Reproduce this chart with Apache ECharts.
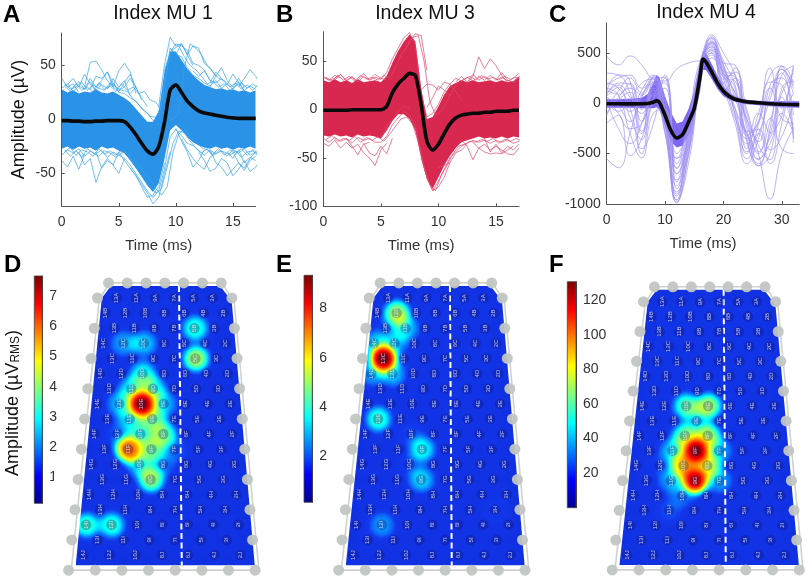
<!DOCTYPE html>
<html><head><meta charset="utf-8">
<script src="https://cdn.jsdelivr.net/npm/echarts@6/dist/echarts.min.js"></script>
<style>html,body{margin:0;padding:0;background:#fff}#c{width:810px;height:580px}</style>
</head><body><div id="c"></div>
<script>
// ---------- waveform data ----------
const titles=['Index MU 1','Index MU 3','Index MU 4'];
const upperA=[28,25,27,24,26,25,28,25,24,26,23,20,16,10,4,-2,-2,7,44,63,63,55,47,41,36,32,30,28,29,27,28,26,27,25,27];
const lowerA=[-27,-25,-28,-25,-27,-26,-29,-25,-27,-26,-29,-31,-38,-45,-53,-61,-67,-59,-37,-10,-5,-10,-16,-21,-24,-26,-27,-25,-27,-26,-28,-26,-27,-25,-27];
const meanA=[-1,-1,-1.5,-1.5,-2,-2,-1.5,-1.5,-1,-1,-1,-2,-7,-14,-22,-29,-32,-25,-3,27,32,25,17,12,8,6,5,4,3,2,1.5,1,1,1,1];
const fringeA=[
[0.25,[31,26,33,27,30,25,34,28,31,26,33,27,30,24,26,18,16,8,3,0,6,48,70,66,60,50,44,38,36,30,34,28,32,27,33,26,31,26,32]],
[0,[29,33,26,31,28,35,27,32,29,34,25,24,20,17,10,6,-1,1,30,66,60,58,48,41,38,34,31,36,29,33,28,35,27,31,28]],
[0.25,[33,28,30,35,27,32,29,27,34,30,27,26,19,14,8,3,2,14,48,65,68,58,50,46,40,33,35,30,33,27,31,34,29,33,29]],
[0.25,[-30,-26,-33,-28,-30,-34,-27,-32,-29,-33,-28,-34,-38,-42,-50,-56,-64,-70,-62,-30,-14,-8,-16,-20,-26,-28,-32,-27,-33,-28,-31,-27,-33,-28,-31]],
[0,[-33,-28,-31,-27,-34,-29,-32,-28,-35,-30,-33,-36,-42,-50,-58,-66,-72,-66,-46,-16,-9,-15,-22,-24,-29,-33,-28,-32,-29,-34,-28,-31,-27,-33,-30]],
[0.25,[-28,-34,-29,-35,-27,-31,-34,-29,-31,-35,-31,-30,-40,-48,-56,-62,-68,-64,-44,-22,-11,-12,-20,-26,-31,-27,-34,-29,-30,-33,-29,-35,-30,-29,-34]]];
const tracesA=[[0,[38,30,33,25]],[0.5,[32,38,30,42,33,26]],[2,[30,53,54,46,36,30,45,52,44,24]],[2.5,[28,40,38,44,30,26,34,42,30,18]],[3,[30,36,44,34,27,30,38,30]],[8.5,[12,50,76,68,70,60,50]],[9,[45,62,70,68,64,52,50,46,36]],[10,[60,70,60,68,66,52,48,40]],[13,[30,40,48,36,30,38,30]],[15.5,[30,38,46,40,30]],[13,[34,44,38,32,42,34,26]],[0,[-38,-44,-34,-46,-32]],[1.5,[-30,-42,-36,-58,-44,-36,-42,-30]],[3,[-30,-45,-38,-42,-50,-36]],[5,[-30,-38,-45,-52,-60,-68,-78,-72,-50,-30]],[6,[-45,-52,-62,-72,-70,-62,-40]],[10.5,[-18,-28,-36,-42,-46,-35,-30]],[12,[-30,-38,-48,-45,-36,-40,-52,-46,-38,-48,-44,-36]],[13,[-28,-40,-44,-52,-46,-40,-45,-36,-30,-38]],[15,[-30,-40,-47,-38,-34]],[10,[-8,-20,-30,-44,-38,-28]],[14.5,[-30,-36,-28,-40,-35,-38]],[6,[24,30,20,12]],[11.5,[45,40,45,36,34,38]],[4,[28,38,30,36,22]],[1,[30,35,28,38,30,34]]];
const upperB=[30,28,31,28,30,27,31,28,29,30,28,34,48,60,70,77,70,22,-10,-8,3,15,24,27,30,28,30,28,29,30,28,30,28,29,34];
const lowerB=[-27,-28,-26,-28,-27,-29,-26,-28,-27,-28,-30,-22,-12,-5,-5,-10,-22,-50,-72,-82,-70,-58,-48,-40,-34,-32,-30,-28,-30,-29,-30,-28,-30,-28,-29];
const meanB=[-1,-1,-1,-1,-1,-0.5,-0.5,-0.5,-0.5,-0.5,-0.5,3,17,26,32,37,35,5,-33,-42,-36,-25,-15,-9,-6,-5,-4,-4,-3,-3,-2,-2,-2,-1,-1];
const fringeB=[
[0.25,[33,29,35,30,34,29,35,31,33,30,35,32,42,56,64,74,76,50,8,-6,-2,8,20,28,31,34,30,35,31,33,30,34,31,33,30]],
[0,[34,30,32,36,29,33,28,34,30,33,31,38,52,63,74,79,66,16,-8,-4,5,18,26,32,29,33,29,34,30,35,30,33,29,32,37]],
[0.25,[-31,-27,-33,-30,-32,-28,-34,-29,-32,-28,-33,-26,-18,-10,-8,-15,-34,-60,-78,-84,-68,-58,-46,-38,-36,-33,-34,-31,-33,-30,-35,-31,-33,-30,-33]],
[0,[-30,-34,-29,-33,-30,-35,-29,-32,-30,-34,-34,-28,-16,-9,-2,-6,-18,-46,-70,-84,-74,-62,-50,-44,-38,-35,-32,-34,-32,-35,-32,-34,-31,-35,-33]]];
const tracesB=[[0,[33,30,35,32]],[1,[30,36,30,34,28]],[3,[30,37,30,36,32,30]],[2,[-30,-38,-47,-36,-34]],[2,[-34,-40,-36,-45,-50,-58,-42,-35]],[0,[-35,-38,-32,-40,-34]],[3.5,[-35,-45,-48,-38,-46,-30]],[8.5,[20,26,25,20,28,26,18,10]],[9,[2,12,24,20,14]],[12.5,[26,34,54,42,52,45,35,28]],[11.5,[28,34,28,36,30,34,30]],[15,[30,38,30,28,32]],[16,[30,28,33,38]],[12,[-32,-38,-52,-40,-44,-46,-45,-46,-42,-38]],[13,[-34,-40,-36,-42,-38,-42,-46,-47,-40]],[14,[-30,-44,-36,-45,-38,-42,-36]],[7,[60,70,78,76,40]],[8.5,[-50,-70,-84,-80,-70,-55]],[10,[-60,-58,-55,-45,-42,-36]],[4.5,[-28,-30,-18,-10,-2,4,0]]];
const timesC=[0,2,4,6,7,8,8.5,9,10,11,12,13,14,15,16,16.5,17,18,19,20,21,22,23,24,26,28,30,33];
const upperC=[40,40,45,55,90,200,280,260,70,-90,-200,-180,-60,120,380,520,500,390,270,170,105,70,50,35,25,20,20,20];
const lowerC=[-45,-45,-45,-50,-50,-50,-40,-60,-230,-380,-440,-420,-320,-160,120,330,330,240,140,70,35,15,0,-10,-20,-30,-40,-45];
const meanC=[-5,-5,-6,-5,-3,10,25,12,-120,-270,-345,-310,-190,-50,270,440,410,310,200,120,70,40,25,15,5,-5,-10,-15];
const tracesC=[
[470,380,470,380,240,220,340,400,420,320,200,60,20,0,-20,-30,-20],
[-550,-640,-300,80,200,-300,-960,-500,300,560,300,-100,-350,-200,150,-150,-200],
[150,80,-300,-540,-100,-60,-850,-300,400,650,380,50,-300,-620,-300,100,300],
[100,180,60,-100,150,-200,-980,-600,200,680,500,280,-100,-500,-950,-500,-250],
[50,-100,-250,-200,80,-120,-700,-400,300,520,400,380,-380,-600,-250,340,100],
[200,150,-50,-450,-200,250,-500,-250,350,600,250,-150,-400,-100,280,370,200],
[30,-250,-400,-200,200,260,-780,-250,350,620,300,150,-500,-300,-600,-200,350],
[180,250,280,150,220,50,-550,-150,420,560,200,350,-250,-550,-400,-100,-300],
[-200,-120,-520,-350,50,280,-650,-250,280,450,150,-200,-600,-350,100,300,-350],
[80,200,190,-180,100,-300,-880,-420,250,500,320,280,-450,-100,-300,370,150],
[-100,60,150,80,250,-120,-920,-450,300,600,350,-50,-300,-500,-150,-450,-500],
[120,280,220,-500,30,150,-700,-350,380,580,100,250,-150,-380,180,250,-120],
[300,280,100,-300,180,200,-600,-200,340,540,380,-120,-550,-200,350,-50,100],
[-50,120,250,100,270,-250,-820,-300,300,660,280,100,-350,-620,-500,150,220],
[60,-30,-180,60,260,-80,-990,-520,220,480,260,220,-200,-480,-180,280,370],
[-30,40,110,-280,190,-160,-760,-500,260,640,420,180,-280,-260,-460,-330,30],
[10,-80,30,200,240,-40,-640,-350,310,500,240,310,-60,-420,-560,60,-260],
[130,90,200,-60,210,-220,-900,-380,360,610,180,-60,-480,-300,40,340,180],
[-120,10,-80,130,280,10,-540,-440,240,530,340,100,-160,-560,-340,-120,380],
[70,160,-140,-360,130,-170,-960,-280,330,590,290,260,-320,-180,210,180,-390]];
// ---------- surface EMG data: RMS amplitude by electrode ----------
const hotD={'5B':3.2,'5C':4.2,'12C':2.2,'10C':2.5,'10D':3,'11D':2.8,'9D':3,'12E':2.4,'10E':7.6,'8E':2.4,'11E':2.4,'9E':3.2,'10F':2.6,'8F':3.6,'11F':6,'9F':3.5,'12F':1.3,'10G':2.6,'8G':1.6,'9G':4,'14I':3.4,'12I':3.3,'7F':1.4};
const hotE={'12B':5,'11B':3,'13B':1.2,'14C':3,'12C':2.6,'13C':9.3,'14D':2.6,'12D':3,'13E':4,'9F':3.6,'10F':1.4,'9G':3.2,'10G':1.2,'12I':2.6,'3H':1};
const hotF={'10E':60,'8E':70,'9E':26,'10F':62,'8F':68,'11F':42,'9F':128,'7F':36,'10G':85,'8G':70,'11G':36,'9G':122,'7G':36,'10H':24,'11H':20,'12G':14};
const baseLevels=[0.42,0.5,5];
const colorbarRanges=[[0.15,7.66],[0.15,9.34],[0,130.6]];
const colorbarTicks=[[1,2,3,4,5,6,7],[2,4,6,8],[20,40,60,80,100,120]];
const rowLetters=['A','B','C','D','E','F','G','H','I','J'];
// ---------- styling and layout ----------
const FONT='"Liberation Sans",Arial,sans-serif';
const AX='#555', TX='#333';
const panels=[
 {left:61.7,top:33,width:194,height:173,xMax:17,yMin:-80,yMax:80,xt:[0,5,10,15],yt:[-50,0,50],band:'#2a93e8',line:'#35a3ec'},
 {left:323.3,top:31.7,width:195.7,height:174.6,xMax:17,yMin:-100,yMax:80,xt:[0,5,10,15],yt:[-100,-50,0,50],band:'#d8284f',line:'#e0476a'},
 {left:606.7,top:22.7,width:192.6,height:181.3,xMax:33,yMin:-1000,yMax:800,xt:[0,10,20,30],yt:[-1000,-500,0,500],band:'#7f66f0',line:'#9f92f3'}];
const heatGeom=[
 {x0:[179.1,181.7],w:[9.6,13.12],y0:298,dy:15.12,cb:[34.3,276,8,227.3]},
 {x0:[450,451.7],w:[9.5,13.1],y0:298,dy:15.12,cb:[304,275.3,8.3,227]},
 {x0:[723.7,725.7],w:[9.44,13.14],y0:301.7,dy:14.9,cb:[567.3,281.7,8.7,226]}];
const jet=[[0,'#000090'],[0.125,'#0000ff'],[0.375,'#00ffff'],[0.625,'#ffff00'],[0.875,'#ff0000'],[1,'#7a0000']];
const heatRamp=['#1030e0','#1238ee','#0a86ff','#00ffff','#80ff80','#ffff00','#ff8000','#ff0000','#7a0000'];

const grid=[],xAxis=[],yAxis=[],series=[],geo=[],visualMap=[],graphic=[];
function addAxes(p,i){
 grid.push({left:p.left,top:p.top,width:p.width,height:p.height});
 const ax={color:AX,width:1};
 xAxis.push({type:'value',gridIndex:i,min:0,max:p.xMax,name:'Time (ms)',nameLocation:'middle',nameGap:32,
  nameTextStyle:{color:TX,fontSize:15,fontFamily:FONT},splitLine:{show:false},axisLine:{onZero:false,lineStyle:ax},
  axisTick:{inside:true,length:3,lineStyle:ax,customValues:p.xt},
  axisLabel:{color:TX,fontSize:14,fontFamily:FONT,margin:9,customValues:p.xt}});
 yAxis.push({type:'value',gridIndex:i,min:p.yMin,max:p.yMax,name:i==0?'Amplitude (µV)':'',nameLocation:'middle',nameGap:34,
  nameTextStyle:{color:'#111',fontSize:18,fontFamily:FONT},splitLine:{show:false},axisLine:{onZero:false,lineStyle:ax},
  axisTick:{inside:true,length:3,lineStyle:ax,customValues:p.yt},
  axisLabel:{color:TX,fontSize:14,fontFamily:FONT,margin:6,customValues:p.yt,formatter:v=>String(v)}});
}
function stepped(start,vals,step){return vals.map((v,k)=>[start+k*step,v]);}
function addWave(i,times,upper,lower,mean,fringe,traces,p){
 const band=times.map((t,k)=>[t,lower[k],upper[k]]);
 series.push({type:'custom',xAxisIndex:i,yAxisIndex:i,silent:true,clip:true,data:[band[0]],encode:{x:0,y:1},
  renderItem:(ps,api)=>{
   const pts=band.map(b=>api.coord([b[0],b[2]])).concat(band.slice().reverse().map(b=>api.coord([b[0],b[1]])));
   return {type:'polygon',shape:{points:pts},style:{fill:p.band},
    clipPath:{type:'rect',shape:{x:ps.coordSys.x,y:ps.coordSys.y,width:ps.coordSys.width,height:ps.coordSys.height}}};}});
 fringe.concat(traces).forEach(tr=>series.push({type:'line',xAxisIndex:i,yAxisIndex:i,data:tr,showSymbol:false,silent:true,
  smooth:i==2,lineStyle:{color:p.line,width:0.7}}));
 series.push({type:'line',xAxisIndex:i,yAxisIndex:i,data:times.map((t,k)=>[t,mean[k]]),showSymbol:false,silent:true,smooth:0.25,
  lineStyle:{color:'#0a0a0a',width:3.6},z:5});
}
panels.forEach(addAxes);
const timesAB=upperA.map((_,k)=>k*0.5);
const half=l=>l.map(t=>stepped(t[0],t[1],0.5));
addWave(0,timesAB,upperA,lowerA,meanA,half(fringeA),half(tracesA),panels[0]);
addWave(1,timesAB,upperB,lowerB,meanB,half(fringeB),half(tracesB),panels[1]);
addWave(2,timesC,upperC,lowerC,meanC,[],tracesC.map(t=>stepped(0,t,2)),panels[2]);

// electrode geometry: col 14..2, row r=0..17
function mk(g){const R=17;return (col,r)=>{const f=r/R;const w=g.w[0]+(g.w[1]-g.w[0])*f;const x0=g.x0[0]+(g.x0[1]-g.x0[0])*f;
 return [x0+(6.5-col)*w,-(g.y0+r*g.dy)];};}
[hotD,hotE,hotF].forEach((hot,k)=>{
 const g=heatGeom[k],P=mk(g),mapName='array'+k;
 const out=[P(13.65,-0.8),P(2.2,-0.8),P(1.05,0.2),P(1,17.67),P(14.5,17.67),P(14.55,0)];
 echarts.registerMap(mapName,{type:'FeatureCollection',features:[{type:'Feature',properties:{name:'a'},
   geometry:{type:'Polygon',coordinates:[out.concat([out[0]])]}}]});
 const xs=out.map(a=>a[0]),ys=out.map(a=>-a[1]);
 const bx=Math.min(...xs),bX=Math.max(...xs),by=Math.min(...ys),bY=Math.max(...ys);
 geo.push({map:mapName,left:bx,top:by,width:bX-bx,height:bY-by,aspectScale:1,roam:false,silent:true,z:1,
   itemStyle:{areaColor:heatRamp[0],borderWidth:0},label:{show:false},emphasis:{disabled:true},select:{disabled:true},tooltip:{show:false}});
 const els=[];
 for(let r=0;r<18;r++){const letter=rowLetters[Math.ceil(r/2)];
  const cols=r%2?[14,12,10,8,6,4,2]:[13,11,9,7,5,3];
  cols.forEach(c=>{const name=c+letter,pos=P(c,r);els.push({name,pos,v:hot[name]??baseLevels[k]});});}
 const cr=colorbarRanges[k];
 visualMap.push({type:'continuous',show:false,seriesIndex:series.length,dimension:2,min:cr[0],max:cr[1],inRange:{color:heatRamp}});
 series.push({type:'heatmap',coordinateSystem:'geo',geoIndex:k,pointSize:13,blurSize:9,minOpacity:1,maxOpacity:1,silent:true,z:2,
   data:els.map(e=>[e.pos[0],e.pos[1],e.v])});
 // mask outside of the array, frame, centre line
 series.push({type:'custom',coordinateSystem:'geo',geoIndex:k,silent:true,z:3,data:[[out[0][0],out[0][1]]],
  renderItem:(ps,api)=>{const c=a=>api.coord(a);
   const W='#fff';
   const left=[P(17,-0.85),P(13.65,-0.85),P(14.55,0),P(14.5,17.7),P(17,17.7)].map(c);
   const right=[P(-2,-0.85),P(2.2,-0.85),P(1.05,0.2),P(1,17.7),P(-2,17.7)].map(c);
   const frame=[P(13.9,-1),P(1.95,-1),P(0.8,0.2),P(0.72,18),P(14.8,18),P(14.8,0.1),P(13.9,-1)].map(c);
   const dash=[P(6.5,-0.8),P(6.5,17.67)].map(c);
   return {type:'group',children:[
    {type:'polygon',shape:{points:left},style:{fill:W}},{type:'polygon',shape:{points:right},style:{fill:W}},
    {type:'polyline',shape:{points:frame},style:{stroke:'#cfd2cf',lineWidth:1.6,fill:'none'}},
    {type:'polyline',shape:{points:dash},style:{stroke:'#fff',lineWidth:2,lineDash:[6,3.5],fill:'none'}}]};}});
 series.push({type:'scatter',coordinateSystem:'geo',geoIndex:k,silent:true,z:4,symbolSize:10.5,
   itemStyle:{color:'rgba(18,18,95,0.36)'},
   label:{show:true,position:'inside',formatter:'{b}',rotate:90,fontSize:6,color:'#e4e8f4',fontFamily:FONT},
   data:els.map(e=>({name:e.name,value:e.pos}))});
 const dots=[];
 for(let c=14;c>=2;c-=2)dots.push(P(c,-1));
 for(let c=15;c>=1;c-=2)dots.push(P(c,18));
 for(let r=0;r<=16;r+=2){dots.push(P(15,r));dots.push(P(1,r));}
 series.push({type:'scatter',coordinateSystem:'geo',geoIndex:k,silent:true,z:4,symbolSize:11,itemStyle:{color:'#c2c6c2',opacity:0.95},data:dots});
 // colour bar
 const gi=grid.length,cb=g.cb;
 grid.push({left:cb[0],top:cb[1],width:cb[2],height:cb[3]});
 xAxis.push({type:'value',gridIndex:gi,min:0,max:1,show:false});
 yAxis.push({type:'value',gridIndex:gi,min:cr[0],max:cr[1],position:'right',splitLine:{show:false},
  axisLine:{show:true,onZero:false,lineStyle:{color:'#444'}},
  axisTick:{inside:true,length:2,lineStyle:{color:'#444'},customValues:colorbarTicks[k]},
  axisLabel:{color:TX,fontSize:14,fontFamily:FONT,margin:7,customValues:colorbarTicks[k]}});
 series.push({type:'custom',xAxisIndex:gi,yAxisIndex:gi,silent:true,data:[[0,cr[0]]],encode:{x:0,y:1},
  renderItem:(ps,api)=>{const a=api.coord([0,cr[1]]),b=api.coord([1,cr[0]]);
   return {type:'rect',shape:{x:a[0],y:a[1],width:b[0]-a[0],height:b[1]-a[1]},
    style:{stroke:'#444',lineWidth:0.8,fill:new echarts.graphic.LinearGradient(0,1,0,0,jet.map(s=>({offset:s[0],color:s[1]})))}};}});
});
// text
[[163,14],[425,14],[706,13]].forEach((p,i)=>graphic.push({type:'text',x:p[0],y:p[1],style:{text:titles[i],font:'19.5px '+FONT,fill:'#111',textAlign:'center',textVerticalAlign:'middle'}}));
[['A',3,15],['B',276,15],['C',549,15],['D',4,265],['E',276,265],['F',549,265]].forEach(l=>graphic.push({type:'text',x:l[1],y:l[2],style:{text:l[0],font:'bold 24px '+FONT,fill:'#000',textVerticalAlign:'middle'}}));
graphic.push({type:'text',x:13,y:403,rotation:Math.PI/2,style:{text:'Amplitude (µV{s|RMS})',font:'18px '+FONT,fill:'#111',textAlign:'center',textVerticalAlign:'middle',
  rich:{s:{font:'12px '+FONT,fill:'#111',verticalAlign:'bottom',padding:[4,0,0,0]}}}});

const chart=echarts.init(document.getElementById('c'),null,{renderer:'canvas'});
chart.setOption({animation:false,backgroundColor:'#fff',grid,xAxis,yAxis,geo,visualMap,series,graphic});
</script></body></html>
